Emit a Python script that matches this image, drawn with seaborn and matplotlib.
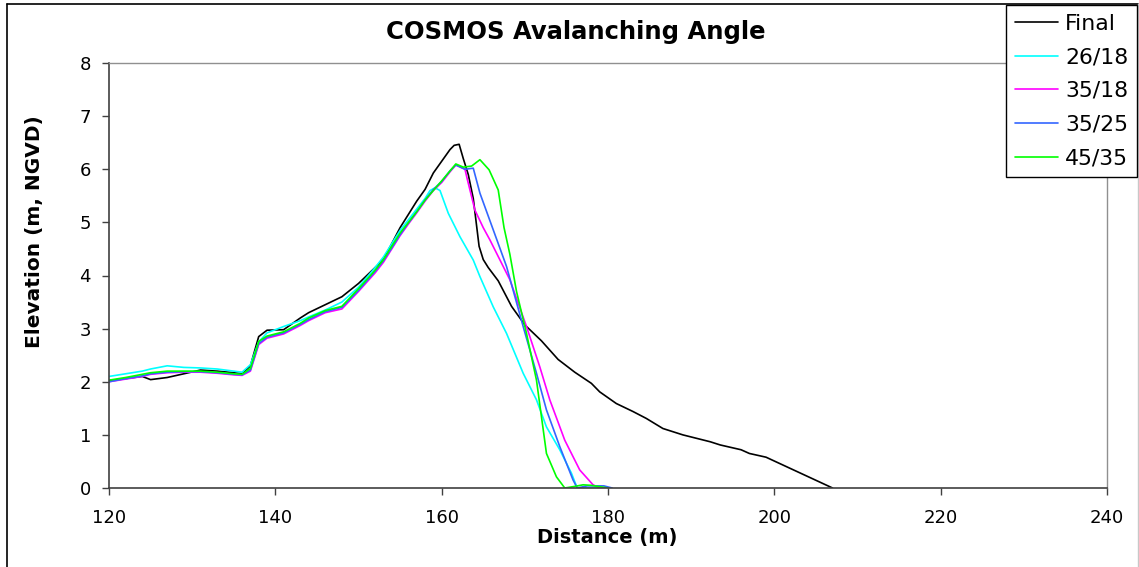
import matplotlib
matplotlib.use("Agg")
import matplotlib.pyplot as plt
from matplotlib.lines import Line2D
import seaborn as sns
import pandas as pd

# ---- data (distance m, elevation m NGVD) ----
final_x = [120, 122, 124, 125, 127, 129, 131, 133, 135, 136, 137, 138, 139, 141, 143, 144, 146, 148, 150, 152,
           153, 154, 155, 156, 157, 158, 159, 160, 161, 161.5, 162.1, 162.6, 163.2, 163.8, 164.5, 165, 165.6,
           166.8, 168.4, 170, 172, 174, 176, 178, 179, 181, 183, 184.6, 186.6, 189, 192.3, 193.5, 196, 197,
           199, 207]
final_y = [2.02, 2.06, 2.1, 2.04, 2.08, 2.15, 2.22, 2.2, 2.17, 2.15, 2.3, 2.85, 2.97, 2.98, 3.2, 3.3, 3.45, 3.6, 3.85, 4.15,
           4.3, 4.6, 4.9, 5.15, 5.4, 5.62, 5.93, 6.15, 6.37, 6.45, 6.47, 6.2, 5.9, 5.45, 4.55, 4.3, 4.15,
           3.9, 3.42, 3.07, 2.77, 2.42, 2.18, 1.97, 1.81, 1.59, 1.44, 1.31, 1.12, 1.0, 0.87, 0.81, 0.72, 0.65,
           0.58, 0.0]

base_x = [120, 122, 124, 125, 127, 129, 131, 133, 135, 136, 137, 138, 139, 141, 143, 144, 146, 148, 150, 152]

c2618_x = base_x + [153, 154, 155, 156, 157, 158, 158.6, 159.2, 159.8, 160.8, 162.2, 163.8, 164.6, 166.2,
                    167.8, 169.8, 171.4, 172.6, 174.2, 175.6, 176.3, 180]
c2618_y = [2.1, 2.15, 2.2, 2.24, 2.3, 2.27, 2.26, 2.24, 2.2, 2.18, 2.32, 2.75, 2.92, 3.04, 3.15, 3.22, 3.35, 3.5, 3.78, 4.15,
           4.35, 4.6, 4.85, 5.05, 5.25, 5.45, 5.6, 5.65, 5.6, 5.17, 4.73, 4.29, 3.98, 3.41,
           2.91, 2.16, 1.66, 1.15, 0.72, 0.28, 0.0, 0.0]

c3518_x = base_x + [153, 154, 155, 156, 157, 158, 159, 160, 161, 161.7, 162.8, 163.1, 164, 165, 165.8, 168.2,
                    170.2, 171.8, 173, 174.8, 176.6, 178.2, 179, 180]
c3518_y = [2.0, 2.05, 2.1, 2.14, 2.17, 2.18, 2.18, 2.16, 2.13, 2.12, 2.2, 2.7, 2.82, 2.9, 3.06, 3.15, 3.3, 3.37, 3.7, 4.05,
           4.25, 4.5, 4.75, 4.97, 5.18, 5.4, 5.6, 5.75, 5.95, 6.08, 6.0, 5.8, 5.23, 4.9, 4.67, 3.92,
           3.04, 2.28, 1.66, 0.9, 0.34, 0.06, 0.0, 0.0]

c3525_x = base_x + [153, 154, 155, 156, 157, 158, 159, 160, 161, 161.7, 162.8, 163.8, 164.6, 167.8, 169.8,
                    171.4, 172.6, 174.2, 175.8, 176.3, 177.5, 179.5, 180.5]
c3525_y = [2.0, 2.06, 2.11, 2.15, 2.18, 2.19, 2.19, 2.17, 2.14, 2.13, 2.22, 2.72, 2.84, 2.92, 3.08, 3.17, 3.32, 3.4, 3.72, 4.08,
           4.28, 4.52, 4.77, 4.99, 5.2, 5.42, 5.62, 5.77, 5.97, 6.08, 6.0, 6.02, 5.55, 4.17, 3.04,
           2.16, 1.47, 0.78, 0.15, 0.0, 0.04, 0.04, 0.0]

c4535_x = base_x + [153, 154, 155, 156, 157, 158, 159, 160, 160.8, 161.7, 162.6, 163.6, 164.6, 165.7, 166.8,
                    167.5, 168.2, 169, 170.2, 171.4, 172.6, 173.8, 174.8, 176, 177, 178, 179.2, 180]
c4535_y = [2.03, 2.08, 2.14, 2.17, 2.2, 2.2, 2.2, 2.18, 2.15, 2.14, 2.25, 2.76, 2.86, 2.94, 3.1, 3.2, 3.34, 3.42, 3.75, 4.1,
           4.3, 4.55, 4.8, 5.0, 5.2, 5.42, 5.6, 5.78, 5.93, 6.1, 6.04, 6.06, 6.18, 5.99, 5.61,
           4.9, 4.4, 3.7, 2.91, 2.03, 0.65, 0.21, 0.0, 0.03, 0.06, 0.05, 0.02, 0.0]

series_names = ["Final", "26/18", "35/18", "35/25", "45/35"]
series_colors = ["#000000", "#00FFFF", "#FF00FF", "#3366FF", "#00FF00"]
x_ticks = [120, 140, 160, 180, 200, 220, 240]
y_ticks = [0, 1, 2, 3, 4, 5, 6, 7, 8]

frames = []
for name, xs, ys in zip(series_names,
                        [final_x, c2618_x, c3518_x, c3525_x, c4535_x],
                        [final_y, c2618_y, c3518_y, c3525_y, c4535_y]):
    frames.append(pd.DataFrame({"Distance": xs, "Elevation": ys, "Series": name}))
df = pd.concat(frames, ignore_index=True)

sns.set_style("white")
plt.rcParams["font.family"] = ["DejaVu Sans"]
plt.rcParams["text.color"] = "black"
plt.rcParams["xtick.color"] = "black"
plt.rcParams["ytick.color"] = "black"

W, H = 1139, 567
fig = plt.figure(figsize=(W / 100, H / 100), dpi=100)
ax = fig.add_axes([109 / W, 1 - 488 / H, (1107 - 109) / W, (488 - 63) / H])

palette = dict(zip(series_names, series_colors))
sns.lineplot(data=df, x="Distance", y="Elevation", hue="Series", palette=palette,
             hue_order=series_names, sort=False, estimator=None, linewidth=1.2,
             legend=False, ax=ax)

ax.set_xlim(120, 240)
ax.set_ylim(0, 8)
ax.set_xticks(x_ticks)
ax.set_yticks(y_ticks)
ax.tick_params(axis="both", labelsize=13, direction="out", length=5, width=1,
               color="#404040", labelcolor="black", bottom=True, left=True)
ax.tick_params(axis="x", pad=10)
ax.tick_params(axis="y", pad=8)
for s in ["left", "bottom"]:
    ax.spines[s].set_color("#404040")
    ax.spines[s].set_linewidth(1.2)
for s in ["top", "right"]:
    ax.spines[s].set_color("#909090")
    ax.spines[s].set_linewidth(1.0)

ax.set_xlabel("")
ax.set_ylabel("")
fig.text((109 + 1107) / 2 / W - 0.001, 1 - 537 / H, "Distance (m)", ha="center", va="center",
         fontsize=14, fontweight="bold", color="black")
fig.text(35 / W, 1 - 232 / H, "Elevation (m, NGVD)", ha="center", va="center",
         rotation=90, fontsize=14.5, fontweight="bold", color="black")
fig.text(576 / W, 1 - 32 / H, "COSMOS Avalanching Angle", ha="center", va="center",
         fontsize=17.5, fontweight="bold", color="black")

# outer chart frame
fig.add_artist(Line2D([7 / W, 7 / W], [0, 1 - 4 / H], transform=fig.transFigure, color="black", lw=1.2))
fig.add_artist(Line2D([7 / W, 1138 / W], [1 - 4 / H, 1 - 4 / H], transform=fig.transFigure, color="black", lw=1.2))
fig.add_artist(Line2D([1138 / W, 1138 / W], [0, 1 - 4 / H], transform=fig.transFigure, color="#c8c8c8", lw=1.0))

handles = [Line2D([0], [0], color=c, lw=1.2) for c in series_colors]
leg = fig.legend(handles, series_names, loc="upper right",
                 bbox_to_anchor=(1137 / W, 1 - 5 / H), bbox_transform=fig.transFigure,
                 fontsize=15.8, frameon=True, fancybox=False, borderaxespad=0,
                 borderpad=0.4, labelspacing=0.62, handlelength=1.95, handletextpad=0.32)
leg.get_frame().set_edgecolor("black")
leg.get_frame().set_linewidth(1.0)
leg.get_frame().set_facecolor("white")
leg.get_frame().set_alpha(1)
for t in leg.get_texts():
    t.set_color("black")

fig.savefig("out.png", dpi=100, facecolor="white")
